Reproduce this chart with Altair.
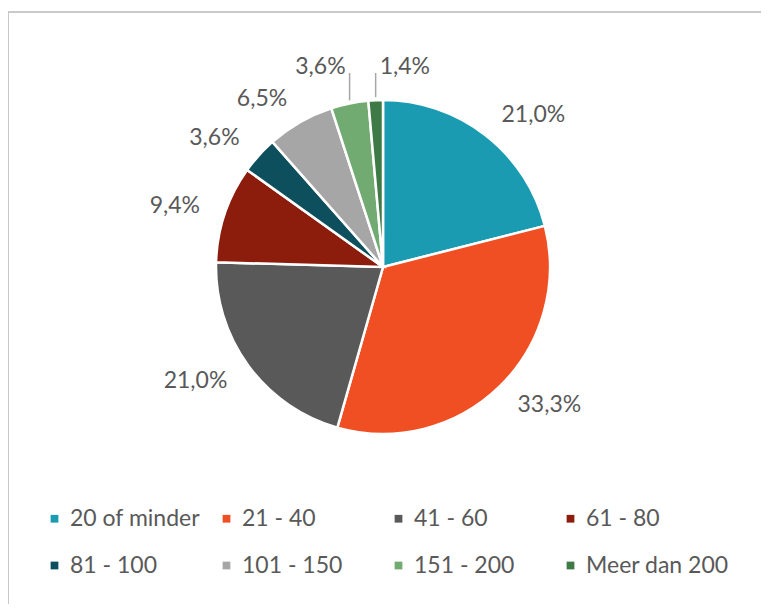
import altair as alt
import pandas as pd

categories = ["20 of minder", "21 - 40", "41 - 60", "61 - 80",
              "81 - 100", "101 - 150", "151 - 200", "Meer dan 200"]
values = [21.0, 33.3, 21.0, 9.4, 3.6, 6.5, 3.6, 1.4]
labels = ["21,0%", "33,3%", "21,0%", "9,4%", "3,6%", "6,5%", "3,6%", "1,4%"]
colors = ["#1A9BB2", "#F04E23", "#595959", "#8C1C0C",
          "#0D4F5C", "#A6A6A6", "#72AB72", "#3E7A45"]

df = pd.DataFrame({"cat": categories, "value": values, "label": labels,
                   "idx": list(range(len(categories)))})

W, H = 753, 596
CX, CY = 375, 259
R = 167
RL = 193
FONT = "Lato"
TXT = "#595959"

base = alt.Chart(df)

color = alt.Color(
    "cat:N", sort=categories,
    scale=alt.Scale(domain=categories, range=colors),
    legend=alt.Legend(
        orient="none", legendX=35, legendY=499, direction="horizontal",
        columns=4, title=None, symbolType="square", symbolSize=60,
        symbolStrokeWidth=0, labelFont=FONT, labelFontSize=23,
        labelColor=TXT, columnPadding=2, rowPadding=23, gridAlign="all",
        labelOffset=4,
    ),
)

pie = base.mark_arc(radius=R, stroke="white", strokeWidth=2.5).encode(
    theta=alt.Theta("value:Q", stack=True),
    color=color,
    order=alt.Order("idx:Q"),
    x=alt.value(CX),
    y=alt.value(CY),
)

lab = (
    base.transform_joinaggregate(total="sum(value)")
    .transform_window(cum="sum(value)", sort=[alt.SortField("idx")], frame=[None, 0])
    .transform_calculate(mid="2*PI*(datum.cum - datum.value/2)/datum.total")
    .transform_calculate(
        lead="datum.mid > 5.9",
        last="datum.cum >= datum.total - 0.0001",
        ex=f"{CX} + {R}*sin(datum.mid)",
        ey=f"{CY} - {R}*cos(datum.mid)",
    )
    .transform_calculate(
        right="datum.lead ? datum.last : sin(datum.mid) >= 0",
    )
    .transform_calculate(
        tx=f"datum.lead ? datum.ex + (datum.right ? 4 : -4) : {CX} + {RL}*sin(datum.mid)",
        ty=f"datum.lead ? {CY} - 200 : {CY} - {RL}*cos(datum.mid)",
        ey0="datum.ey - 3",
        ty2=f"{CY} - 194",
    )
)

def txt(align, cond):
    return lab.transform_filter(cond).mark_text(
        align=align, baseline="middle", font=FONT, fontSize=23, color=TXT
    ).encode(
        x=alt.X("tx:Q", scale=None, axis=None),
        y=alt.Y("ty:Q", scale=None, axis=None),
        text="label:N",
    )

text_r = txt("left", "datum.right")
text_l = txt("right", "!datum.right")

leaders = lab.transform_filter("datum.lead").mark_rule(
    color="#A6A6A6", strokeWidth=1.5
).encode(
    x=alt.X("ex:Q", scale=None, axis=None),
    y=alt.Y("ey0:Q", scale=None, axis=None),
    y2="ty2:Q",
)

border_top = base.mark_rule(color="#C8C8C8", strokeWidth=1.5).encode(
    x=alt.value(0), x2=alt.value(W), y=alt.value(4)
)
border_left = base.mark_rule(color="#C8C8C8", strokeWidth=1.5).encode(
    x=alt.value(0), y=alt.value(4), y2=alt.value(H)
)

chart = alt.layer(border_top, border_left, pie, leaders, text_r, text_l).properties(
    width=W, height=H, padding=0, autosize=alt.AutoSizeParams(type="none"),
    background="white",
).configure_view(stroke=None)

chart.save("out.html", embed_options={"renderer": "svg", "actions": False})
